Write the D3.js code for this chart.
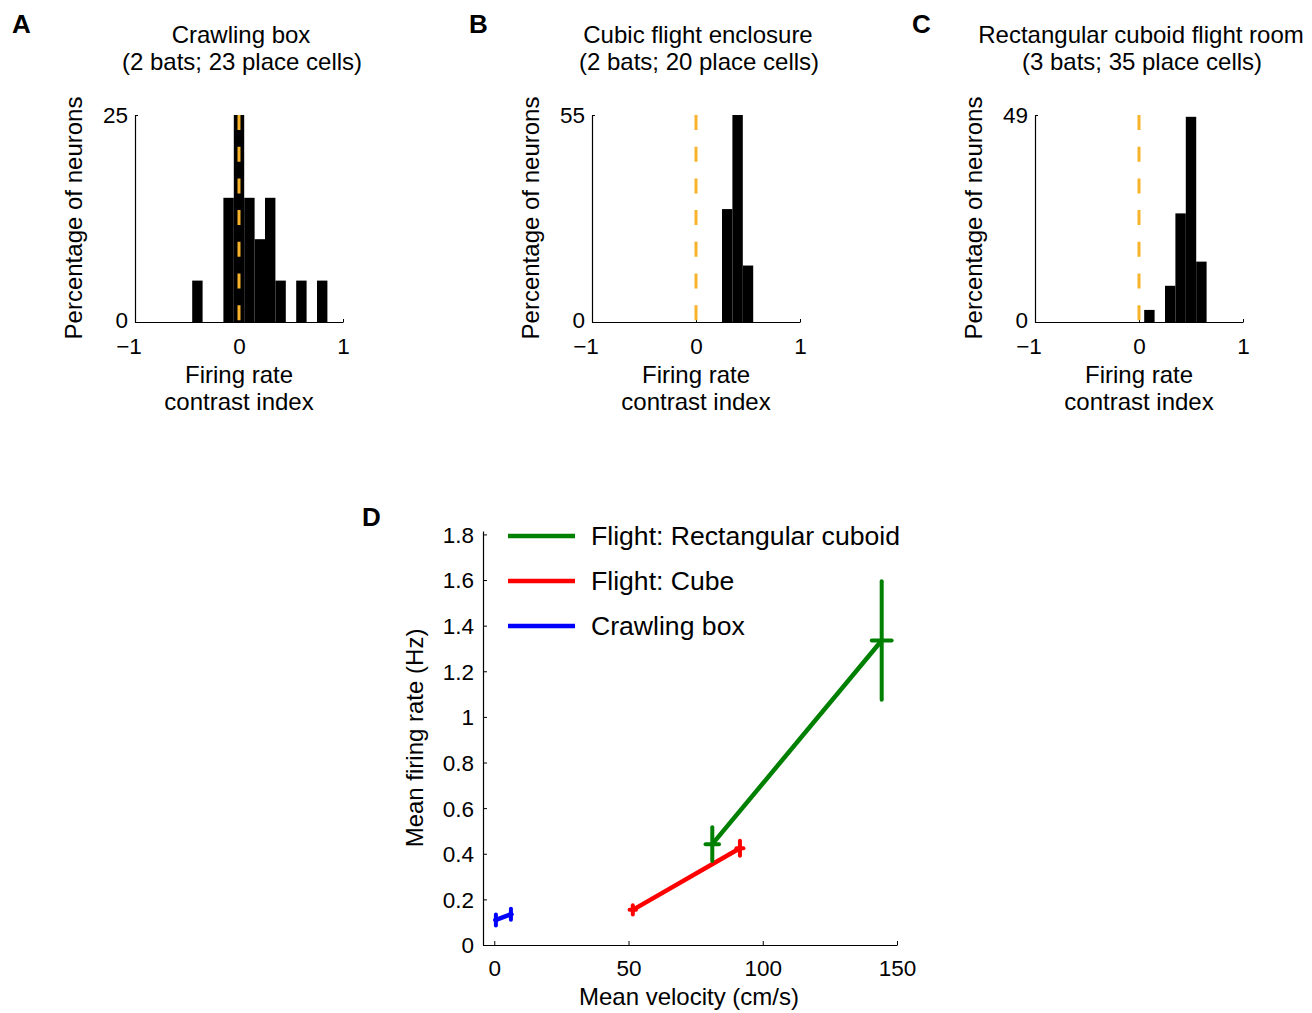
<!DOCTYPE html>
<html><head><meta charset="utf-8">
<script src="https://cdn.jsdelivr.net/npm/d3@7"></script>
<style>
body{margin:0;background:#fff}
svg{display:block}
text{font-family:"Liberation Sans",Arial,Helvetica,sans-serif;fill:#000}
</style>
</head><body>
<svg id="c" width="1312" height="1013"></svg>
<script>
// ---------- data ----------
const histLetters = ["A", "B", "C"];
const histTitleLine1 = ["Crawling box", "Cubic flight enclosure", "Rectangular cuboid flight room"];
const histTitleLine2 = ["(2 bats; 23 place cells)", "(2 bats; 20 place cells)", "(3 bats; 35 place cells)"];
const binCentersA = [-0.4, -0.1, 0, 0.1, 0.2, 0.3, 0.4, 0.6, 0.8];
const percentA   = [5, 15, 25, 15, 10, 15, 5, 5, 5];
const binCentersB = [0.3, 0.4, 0.5];
const percentB   = [30, 55, 15];
const binCentersC = [0.1, 0.3, 0.4, 0.5, 0.6];
const percentC   = [2.86, 8.57, 25.71, 48.57, 14.29];
const histYMax = [25, 55, 49];
const histXTicks = [-1, 0, 1];
const binWidth = 0.1;

const seriesNames = ["Flight: Rectangular cuboid", "Flight: Cube", "Crawling box"];
const seriesColors = ["#008000", "#ff0000", "#0000ff"];
const velocityRect = [81.2, 144.3];
const rateRect     = [0.442, 1.335];
const velErrRect   = [2.5, 3.7];
const rateErrRect  = [0.074, 0.26];
const velocityCube = [51.6, 91.5];
const rateCube     = [0.154, 0.424];
const velErrCube   = [1.2, 1.3];
const rateErrCube  = [0.02, 0.033];
const velocityCrawl = [0.6, 6.2];
const rateCrawl     = [0.11, 0.135];
const velErrCrawl   = [0.3, 0.3];
const rateErrCrawl  = [0.024, 0.024];
const dXTicks = [0, 50, 100, 150];
const dYTicks = [0, 0.2, 0.4, 0.6, 0.8, 1, 1.2, 1.4, 1.6, 1.8];

// ---------- drawing ----------
const svg = d3.select("#c");
const FONT = '"Liberation Sans",Arial,Helvetica,sans-serif';
const hist = [
  {c: binCentersA, v: percentA},
  {c: binCentersB, v: percentB},
  {c: binCentersC, v: percentC}
];
const histLeft = [135, 592, 1035];
const histW = 208, histTop = 115, histBottom = 322;
const letterX = [12, 469, 912];

hist.forEach((h, i) => {
  const x = d3.scaleLinear().domain([-1, 1]).range([histLeft[i], histLeft[i] + histW]);
  const y = d3.scaleLinear().domain([0, histYMax[i]]).range([histBottom, histTop]);
  const g = svg.append("g");

  g.append("text").attr("x", letterX[i]).attr("y", 33)
    .attr("font-size", 26).attr("font-weight", "bold").text(histLetters[i]);
  g.append("text").attr("x", x(0) + 2).attr("y", 43).attr("text-anchor", "middle")
    .attr("font-size", 24).text(histTitleLine1[i]);
  g.append("text").attr("x", x(0) + 3).attr("y", 70).attr("text-anchor", "middle")
    .attr("font-size", 24).text(histTitleLine2[i]);

  // bars
  g.selectAll("rect.bar").data(h.c.map((c, k) => ({c, v: h.v[k]}))).enter()
    .append("rect").attr("class", "bar")
    .attr("x", d => x(d.c - binWidth / 2))
    .attr("width", d => x(d.c + binWidth / 2) - x(d.c - binWidth / 2))
    .attr("y", d => y(d.v))
    .attr("height", d => y(0) - y(d.v))
    .attr("fill", "#000");

  // axes
  const xa = g.append("g").attr("transform", `translate(0,${histBottom})`)
    .call(d3.axisBottom(x).tickValues(histXTicks).tickSizeInner(-3).tickSizeOuter(0).tickPadding(16).tickFormat(d3.format("d")));
  const ya = g.append("g").attr("transform", `translate(${histLeft[i]},0)`)
    .call(d3.axisLeft(y).tickValues([0, histYMax[i]]).tickSizeInner(-3).tickSizeOuter(0).tickPadding(7));
  [xa, ya].forEach(a => {
    a.attr("font-family", FONT).attr("font-size", 22.5);
    a.select(".domain").attr("stroke", "#000").attr("stroke-width", 1.2);
    a.selectAll(".tick line").attr("stroke", "#000");
    a.selectAll("text").attr("fill", "#000");
  });
  xa.selectAll("text").attr("dx", d => d < 0 ? "-0.29em" : 0);
  ya.selectAll("text").attr("dy", d => d === 0 ? "0.25em" : "0.35em");

  // dashed zero line
  g.append("line").attr("x1", x(0)).attr("x2", x(0)).attr("y1", histTop).attr("y2", histBottom)
    .attr("stroke", "#f7b32b").attr("stroke-width", 3).attr("stroke-dasharray", "15,16.7");

  g.append("text").attr("transform", `translate(${histLeft[i] - 53},218) rotate(-90)`)
    .attr("text-anchor", "middle").attr("font-size", 24).text("Percentage of neurons");
  g.append("text").attr("x", x(0)).attr("y", 383).attr("text-anchor", "middle")
    .attr("font-size", 24).text("Firing rate");
  g.append("text").attr("x", x(0)).attr("y", 410).attr("text-anchor", "middle")
    .attr("font-size", 24).text("contrast index");
});

// ---------- panel D ----------
const dx = d3.scaleLinear().domain([-4.2, 150]).range([483, 897]);
const dy = d3.scaleLinear().domain([0, 1.815]).range([945, 531]);
const gd = svg.append("g");
gd.append("text").attr("x", 362).attr("y", 526).attr("font-size", 26).attr("font-weight", "bold").text("D");

const dxa = gd.append("g").attr("transform", "translate(0,945)")
  .call(d3.axisBottom(dx).tickValues(dXTicks).tickSizeInner(-4).tickSizeOuter(0).tickPadding(15).tickFormat(d3.format("d")));
const dya = gd.append("g").attr("transform", "translate(483,0)")
  .call(d3.axisLeft(dy).tickValues(dYTicks).tickSizeInner(-4).tickSizeOuter(0).tickPadding(9).tickFormat(d => d === 0 || d === 1 ? d3.format("d")(d) : d3.format(".1f")(d)));
[dxa, dya].forEach(a => {
  a.attr("font-family", FONT).attr("font-size", 22.5);
  a.select(".domain").attr("stroke", "#000").attr("stroke-width", 1.2);
  a.selectAll(".tick line").attr("stroke", "#000");
  a.selectAll("text").attr("fill", "#000");
});
dya.selectAll("text").attr("dy", "0.35em");

gd.append("text").attr("transform", "translate(423,738) rotate(-90)")
  .attr("text-anchor", "middle").attr("font-size", 24).text("Mean firing rate (Hz)");
gd.append("text").attr("x", 689).attr("y", 1005).attr("text-anchor", "middle")
  .attr("font-size", 24).text("Mean velocity (cm/s)");

const series = [
  {vx: velocityCrawl, vy: rateCrawl, ex: velErrCrawl, ey: rateErrCrawl, color: seriesColors[2]},
  {vx: velocityCube, vy: rateCube, ex: velErrCube, ey: rateErrCube, color: seriesColors[1]},
  {vx: velocityRect, vy: rateRect, ex: velErrRect, ey: rateErrRect, color: seriesColors[0]}
];
const line = d3.line().x(d => dx(d[0])).y(d => dy(d[1]));
series.forEach(s => {
  const pts = s.vx.map((v, k) => [v, s.vy[k], s.ex[k], s.ey[k]]);
  gd.append("path").datum(pts).attr("d", line).attr("fill", "none")
    .attr("stroke", s.color).attr("stroke-width", 4.5).attr("stroke-linecap", "round");
  pts.forEach(p => {
    gd.append("line").attr("x1", dx(p[0])).attr("x2", dx(p[0]))
      .attr("y1", dy(p[1] - p[3])).attr("y2", dy(p[1] + p[3]))
      .attr("stroke", s.color).attr("stroke-width", 4).attr("stroke-linecap", "round");
    gd.append("line").attr("x1", dx(p[0] - p[2])).attr("x2", dx(p[0] + p[2]))
      .attr("y1", dy(p[1])).attr("y2", dy(p[1]))
      .attr("stroke", s.color).attr("stroke-width", 4).attr("stroke-linecap", "round");
  });
});

// legend
const legY = [536, 581, 626];
seriesNames.forEach((n, k) => {
  gd.append("line").attr("x1", 508).attr("x2", 575).attr("y1", legY[k]).attr("y2", legY[k])
    .attr("stroke", seriesColors[k]).attr("stroke-width", 4.5);
  gd.append("text").attr("x", 591).attr("y", legY[k] + 9).attr("font-size", 26.6).text(n);
});
</script>
</body></html>
